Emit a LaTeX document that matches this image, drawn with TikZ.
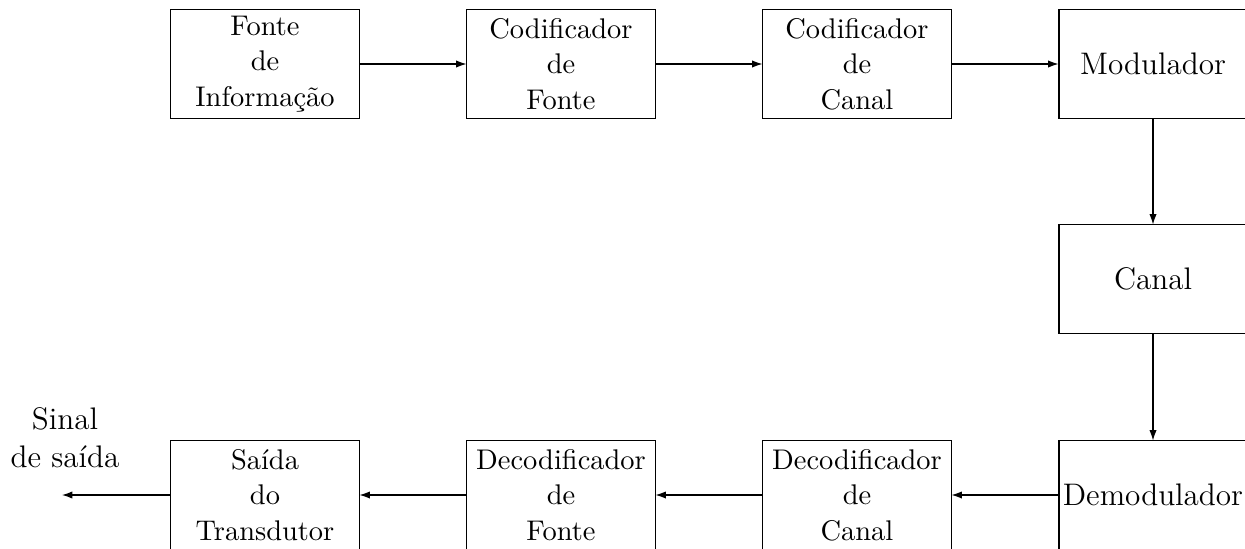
\documentclass[tikz,border=0pt]{standalone}
\usetikzlibrary{arrows.meta}
\begin{document}
\begin{tikzpicture}[x=0.385pt,y=-0.385pt,
  block/.style={draw, line width=0.4pt, minimum width=72.4pt, minimum height=41.6pt,
    inner sep=0.5pt, align=center, font=\fontsize{12}{14.5}\selectfont},
  multi/.style={block, font=\fontsize{10.95}{13.6}\selectfont},
  link/.style={-{Latex[length=4pt,width=2.8pt]}, line width=0.4pt}]
\useasboundingbox (0,0) rectangle (1245,548);
% transmitter chain
\node[multi] (src)   at (265,64)  {Fonte\\de\\Informação};
\node[multi] (scod)  at (561,64)  {Codificador\\de\\Fonte};
\node[multi] (ccod)  at (857,64)  {Codificador\\de\\Canal};
\node[block] (mod)   at (1153,64) {Modulador};
% channel
\node[block] (chan)  at (1153,279) {Canal};
% receiver chain
\node[block] (demod) at (1153,495) {Demodulador};
\node[multi] (cdec)  at (857,495) {Decodificador\\de\\Canal};
\node[multi] (sdec)  at (561,495) {Decodificador\\de\\Fonte};
\node[multi] (sink)  at (265,495) {Saída\\do\\Transdutor};
% output signal
\coordinate (out) at (62,495);
\node[align=center, inner sep=0pt, font=\fontsize{12}{14.5}\selectfont] (outlbl) at (65,438) {Sinal\\de saída};
% connectors
\draw[link] (src) -- (scod);
\draw[link] (scod) -- (ccod);
\draw[link] (ccod) -- (mod);
\draw[link] (mod) -- (chan);
\draw[link] (chan) -- (demod);
\draw[link] (demod) -- (cdec);
\draw[link] (cdec) -- (sdec);
\draw[link] (sdec) -- (sink);
\draw[link] (sink) -- (out);
\end{tikzpicture}
\end{document}
